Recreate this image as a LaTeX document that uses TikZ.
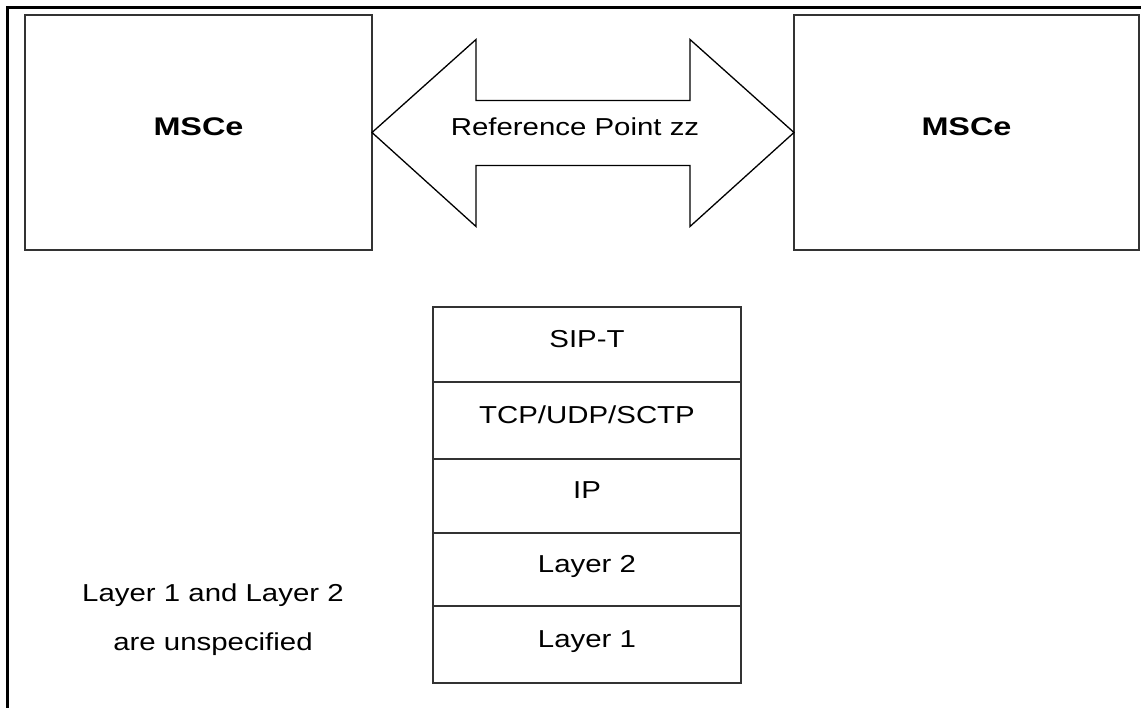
\documentclass[tikz,border=0pt]{standalone}
\usepackage{fontspec}
\setmainfont{Liberation Sans}[FakeStretch=1.2]
\newfontfamily\wideboldfont{Liberation Sans}[FakeStretch=1.27]

\tikzset{
  edge/.style={draw=black!80, line width=1.4pt},
  entity/.style={edge, rectangle, inner sep=0pt, outer sep=0pt,
    minimum height=235pt, text height=18pt, text depth=13pt,
    font=\wideboldfont\bfseries\fontsize{25.5}{30}\selectfont},
  layerbox/.style={edge, rectangle, inner sep=0pt, outer sep=0pt,
    minimum width=308pt, text height=17.5pt, text depth=12.5pt,
    font=\fontsize{24.5}{29}\selectfont},
  plain/.style={inner sep=0pt, text height=17.5pt, text depth=12.5pt,
    font=\fontsize{24.5}{29}\selectfont},
  fatarrow/.style={draw=black, line width=1.3pt, line join=miter},
  frame/.style={draw=black, line width=3.5pt}
}

\begin{document}
\begin{tikzpicture}[x=1pt,y=1pt]
  \useasboundingbox (0,0) rectangle (1146,-707);

  % outer frame: top and left sides only
  \draw[frame] (7.5,-712) -- (7.5,-7.5) -- (1141,-7.5);

  % the two MSCe entities
  \node[entity, minimum width=347pt] (m1) at (198.5,-132.5) {MSCe};
  \node[entity, minimum width=345pt] (m2) at (966.5,-132.5) {MSCe};

  % block double arrow between them
  \draw[fatarrow] (m1.east) -- ++(104,93) -- ++(0,-61) -- ++(214,0)
    -- ++(0,61) -- (m2.west) -- ++(-104,-94) -- ++(0,61) -- ++(-214,0)
    -- ++(0,-61) -- cycle;
  \node[plain] (rp) at (575,-132.5) {Reference Point zz};

  % protocol stack
  \node[layerbox, minimum height=75pt] (sip) at (587,-344.5) {SIP-T};
  \node[layerbox, minimum height=77pt] (tcp) at (587,-420.5) {TCP/UDP/SCTP};
  \node[layerbox, minimum height=74pt] (ip)  at (587,-496)   {IP};
  \node[layerbox, minimum height=73pt] (l2)  at (587,-569.5) {Layer 2};
  \node[layerbox, minimum height=77pt] (l1)  at (587,-644.5) {Layer 1};

  % note
  \node[inner sep=0pt, anchor=north, align=center,
        font=\fontsize{24.5}{49}\selectfont] (note) at (213,-584)
        {Layer 1 and Layer 2\\are unspecified};
\end{tikzpicture}
\end{document}
